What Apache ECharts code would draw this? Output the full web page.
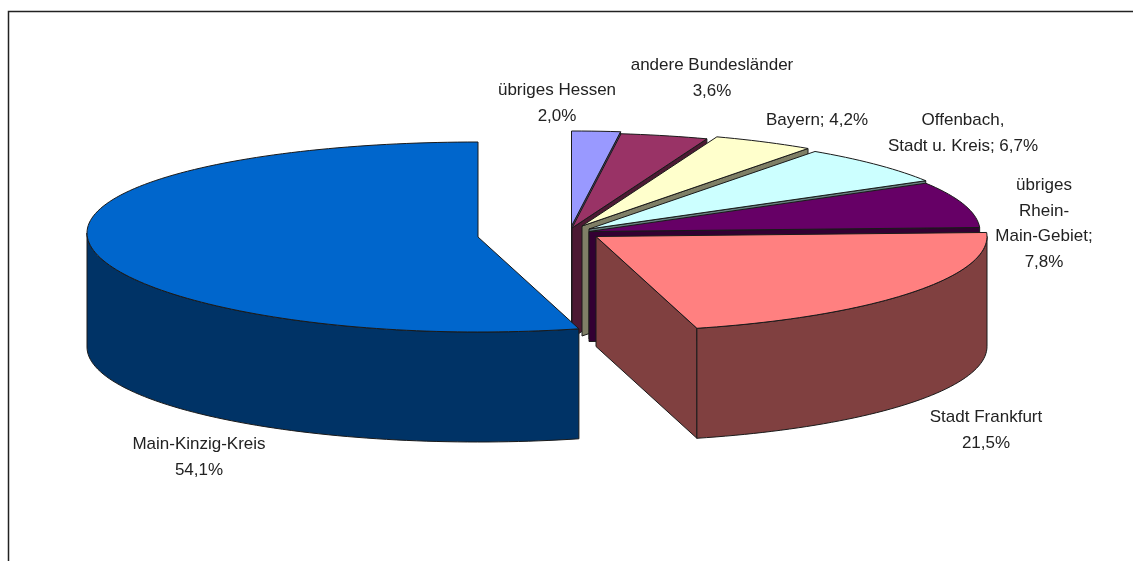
<!DOCTYPE html>
<html><head><meta charset="utf-8">
<style>html,body{margin:0;padding:0;background:#fff}#c{width:1133px;height:561px}</style>
<script src="https://cdn.jsdelivr.net/npm/echarts@6/dist/echarts.min.js"></script>
</head><body><div id="c"></div>
<script>
// Data, clockwise from 12 o'clock
const categories = ['übriges Hessen','andere Bundesländer','Bayern','Offenbach, Stadt u. Kreis','übriges Rhein-Main-Gebiet','Stadt Frankfurt','Main-Kinzig-Kreis'];
const shares = [2.0,3.6,4.2,6.7,7.8,21.5,54.1];
const labelTexts = [
 'übriges Hessen\n2,0%',
 'andere Bundesländer\n3,6%',
 'Bayern; 4,2%',
 'Offenbach,\nStadt u. Kreis; 6,7%',
 'übriges\nRhein-\nMain-Gebiet;\n7,8%',
 'Stadt Frankfurt\n21,5%',
 'Main-Kinzig-Kreis\n54,1%'
];
// Styles / layout
const topColors = ['#9999FF','#993366','#FFFFCC','#CCFFFF','#660066','#FF8080','#0066CC'];
const wallColors = ['#4C4C7F','#4C1933','#7F7F66','#667F7F','#330033','#804040','#003366'];
const pieCenter = [575,230], radiusX = 391, radiusY = 95, depth = 110, leftLift = 4;
const explode = [[-3.5,-4],[-3,-2],[7,-4],[14,-1],[14,1.5],[21,6.5],[-97,7]];
const labelAnchor = [[557,78],[712,53],[817,108],[963,108],[1044,173],[986,405],[199,432]];
const LINE = 25.5;

const total = shares.reduce((a,b)=>a+b,0);
const starts = []; shares.reduce((acc,v,i)=>{starts[i]=acc;return acc+v/total*360;},0);

function pt(c,deg,dy){
  const r=deg*Math.PI/180, s=Math.sin(r);
  const lift=(!dy&&deg>180)?leftLift*s*s:0;
  return [c[0]+radiusX*s,c[1]-radiusY*Math.cos(r)+(dy||0)-lift];
}
function arc(c,a,b,dy){const n=Math.max(2,Math.ceil(Math.abs(b-a)/1.5));const out=[];for(let i=0;i<=n;i++)out.push(pt(c,a+(b-a)*i/n,dy));return out;}
const edge={stroke:'#1a1a1a',lineWidth:1,lineJoin:'round'};

function renderItem(params,api){
  const i=params.dataIndex, v=api.value(0);
  const a=starts[i], b=a+v/total*360;
  const c=[pieCenter[0]+explode[i][0],pieCenter[1]+explode[i][1]];
  const kids=[];
  const poly=(points,fill)=>kids.push({type:'polygon',shape:{points},style:Object.assign({fill},edge)});
  // cut wall at the clockwise end when it faces the viewer
  if(b<180){const e=pt(c,b);poly([c,e,[e[0],e[1]+depth],[c[0],c[1]+depth]],wallColors[i]);}
  // outer wall on the near half
  const wa=Math.max(a,90), wb=Math.min(b,270);
  if(wb>wa){poly(arc(c,wa,wb,0).concat(arc(c,wb,wa,depth)),wallColors[i]);}
  // top face
  poly([c].concat(arc(c,a,b,0)),topColors[i]);
  const la=labelAnchor[i];
  kids.push({type:'text',x:la[0],y:la[1],style:{text:labelTexts[i],fill:'#222',font:'17px "Liberation Sans"',align:'center',verticalAlign:'top',lineHeight:LINE}});
  return {type:'group',children:kids};
}
const chart=echarts.init(document.getElementById('c'),null,{renderer:'canvas'});
chart.setOption({
  animation:false,
  backgroundColor:'#fff',
  graphic:[{type:'polyline',shape:{points:[[8.5,561],[8.5,11.5],[1133,11.5]]},style:{stroke:'#222',fill:null,lineWidth:1.5},z:-1,silent:true}],
  series:[{type:'custom',coordinateSystem:'none',renderItem,data:shares.map((v,i)=>({name:categories[i],value:[v]})),silent:true}]
});
</script></body></html>
